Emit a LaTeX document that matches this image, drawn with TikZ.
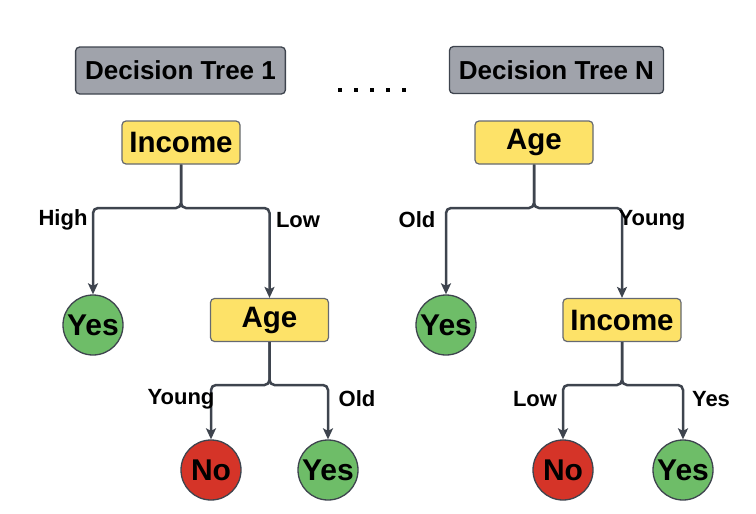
\documentclass[tikz,border=0pt]{standalone}
\usepackage{fontspec}
\setmainfont{Liberation Sans}
\usepackage{tikz}
\usetikzlibrary{arrows.meta,positioning}
\definecolor{boxgrey}{RGB}{160,163,171}
\definecolor{splityellow}{RGB}{253,226,104}
\definecolor{leafgreen}{RGB}{110,189,104}
\definecolor{leafred}{RGB}{213,52,40}
\definecolor{linegrey}{RGB}{62,68,78}
\newcommand{\fsz}[1]{\fontsize{#1}{#1}\selectfont\bfseries}

\begin{document}
\begin{tikzpicture}[
x=1pt,y=-1pt,
TitleBox/.style={draw=linegrey,fill=boxgrey,line width=1.3pt,rounded corners=4pt,minimum height=47,inner xsep=9.5,font=\fsz{26}},
SplitBox/.style={draw=linegrey!80,fill=splityellow,line width=1.2pt,rounded corners=4pt,minimum height=43,minimum width=118,inner xsep=6.5,font=\fsz{29.5}},
Leaf/.style={circle,draw=linegrey,line width=1.3pt,minimum size=60,inner sep=0pt,font=\fsz{30}},
YesLeaf/.style={Leaf,fill=leafgreen},
NoLeaf/.style={Leaf,fill=leafred},
Edge/.style={draw=linegrey,line width=2.5pt,rounded corners=5pt,-{Stealth[length=11pt,width=10pt,inset=2.5pt]}},
EdgeLabel/.style={font=\fsz{22}}
]
\useasboundingbox (0,0) rectangle (756,514);

% titles
\node[TitleBox] (title1) at (180.5,70.5) {Decision Tree 1};
\node[TitleBox] (titleN) at (556.5,70) {Decision Tree N};
\foreach \i in {0,...,4}
  \fill[black] (338+16*\i,88) rectangle ++(4,4);

% tree 1
\node[SplitBox] (income1) at (181,142.5) {Income};
\node[YesLeaf] (yes1) at (93,325) {Yes};
\node[SplitBox] (age1) at (269.5,320) {Age};
\node[NoLeaf] (no1) at (211,470) {No};
\node[YesLeaf] (yes2) at (328,470) {Yes};

\coordinate (b1) at (181,208);
\coordinate (b2) at (269.5,385);
\draw[Edge] (income1.south) -- (b1) -| (yes1.north);
\draw[Edge] (income1.south) -- (b1) -| (age1.north);
\draw[Edge] (age1.south) -- (b2) -| (no1.north);
\draw[Edge] (age1.south) -- (b2) -| (yes2.north);

\node[EdgeLabel] (high1) at (63,220) {High};
\node[EdgeLabel] (low1) at (298,220) {Low};
\node[EdgeLabel] (young1) at (181,399) {Young};
\node[EdgeLabel] (old1) at (357,399) {Old};

% tree N
\node[SplitBox] (ageN) at (534,142.5) {Age};
\node[YesLeaf] (yes3) at (446,325) {Yes};
\node[SplitBox] (incomeN) at (622,320) {Income};
\node[NoLeaf] (no2) at (563,470) {No};
\node[YesLeaf] (yes4) at (683,470) {Yes};

\coordinate (b3) at (534,208);
\coordinate (b4) at (622,385);
\draw[Edge] (ageN.south) -- (b3) -| (yes3.north);
\draw[Edge] (ageN.south) -- (b3) -| (incomeN.north);
\draw[Edge] (incomeN.south) -- (b4) -| (no2.north);
\draw[Edge] (incomeN.south) -- (b4) -| (yes4.north);

\node[EdgeLabel] (old2) at (417,220) {Old};
\node[EdgeLabel] (young2) at (652,220) {Young};
\node[EdgeLabel] (low2) at (535,399) {Low};
\node[EdgeLabel] (yes5) at (711,399) {Yes};

\end{tikzpicture}
\end{document}
